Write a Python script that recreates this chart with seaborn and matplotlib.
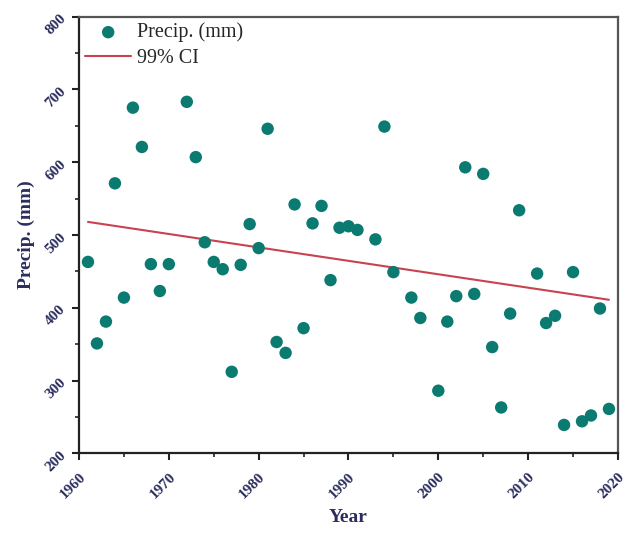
import numpy as np
import pandas as pd
import matplotlib
matplotlib.use("Agg")
import matplotlib.pyplot as plt
import seaborn as sns
from matplotlib.ticker import MultipleLocator

# Annual precipitation series
years = [1961, 1962, 1963, 1964, 1965, 1966, 1967, 1968, 1969, 1970,
         1972, 1973, 1974, 1975, 1976, 1977, 1978, 1979, 1980, 1981,
         1982, 1983, 1984, 1985, 1986, 1987, 1988, 1989, 1990, 1991,
         1993, 1994, 1995, 1997, 1998, 2000, 2001, 2002, 2003, 2004,
         2005, 2006, 2007, 2008, 2009, 2011, 2012, 2013, 2014, 2015,
         2016, 2017, 2018, 2019]
precip = [463, 351, 381, 571, 414, 675, 621, 460, 423, 460,
          683, 607, 490, 463, 453, 312, 459, 515, 482, 646,
          353, 338, 542, 372, 516, 540, 438, 510, 512, 507,
          494, 649, 449, 414, 386, 286, 381, 416, 593, 419,
          584, 346, 263, 392, 534, 447, 379, 389, 239, 449,
          244, 252, 399, 261]

# Trend line end points
trend_years = [1961, 2019]
trend_vals = [518, 411]

x_ticks = [1960, 1970, 1980, 1990, 2000, 2010, 2020]
y_ticks = [200, 300, 400, 500, 600, 700, 800]

df = pd.DataFrame({"Year": years, "Precip": precip})
trend = pd.DataFrame({"Year": trend_years, "Precip": trend_vals})

sns.set_theme(style="ticks")
plt.rcParams["font.family"] = ["Liberation Serif", "DejaVu Serif"]

navy = "#2b2d5e"
teal = "#0b7a70"
red = "#c8424f"

fig = plt.figure(figsize=(6.28, 5.33), dpi=100)
ax = fig.add_axes([0.1258, 0.1495, 0.8582, 0.8192])

sns.scatterplot(data=df, x="Year", y="Precip", ax=ax, color=teal, s=80,
                edgecolor="none", label="Precip. (mm)", zorder=3)
sns.lineplot(data=trend, x="Year", y="Precip", ax=ax, color=red, lw=1.5,
             label="99% CI", zorder=2)

ax.set_xlim(1960, 2020)
ax.set_ylim(200, 800)
ax.set_xticks(x_ticks)
ax.set_yticks(y_ticks)
ax.xaxis.set_minor_locator(MultipleLocator(5))
ax.yaxis.set_minor_locator(MultipleLocator(50))

ax.tick_params(axis="both", which="major", direction="out", length=5,
               width=1.5, color="#222222", labelsize=11, labelcolor=navy)
ax.tick_params(axis="x", which="major", pad=7)
ax.tick_params(axis="y", which="major", pad=6)
ax.tick_params(axis="both", which="minor", direction="out", length=3,
               width=1.2, color="#222222")
for lab in ax.get_xticklabels():
    lab.set_rotation(45)
    lab.set_fontweight("bold")
    lab.set_ha("right")
    lab.set_va("top")
    lab.set_rotation_mode("anchor")
for lab in ax.get_yticklabels():
    lab.set_rotation(45)
    lab.set_fontweight("bold")
    lab.set_ha("right")
    lab.set_va("center")
    lab.set_rotation_mode("anchor")

for side in ["left", "bottom"]:
    ax.spines[side].set_color("#222222")
    ax.spines[side].set_linewidth(1.6)
for side in ["top", "right"]:
    ax.spines[side].set_visible(True)
    ax.spines[side].set_color("#555555")
    ax.spines[side].set_linewidth(1.6)

ax.set_xlabel("Year", fontsize=14, fontweight="bold", color=navy, labelpad=6)
ax.set_ylabel("Precip. (mm)", fontsize=14, fontweight="bold", color=navy,
              labelpad=6)

leg = ax.legend(loc="upper left", frameon=False, fontsize=14.5,
                handlelength=2.3, borderaxespad=0.0, borderpad=0.3,
                labelspacing=0.3, handletextpad=0.3)

fig.savefig("out.png", dpi=100, facecolor="white")
